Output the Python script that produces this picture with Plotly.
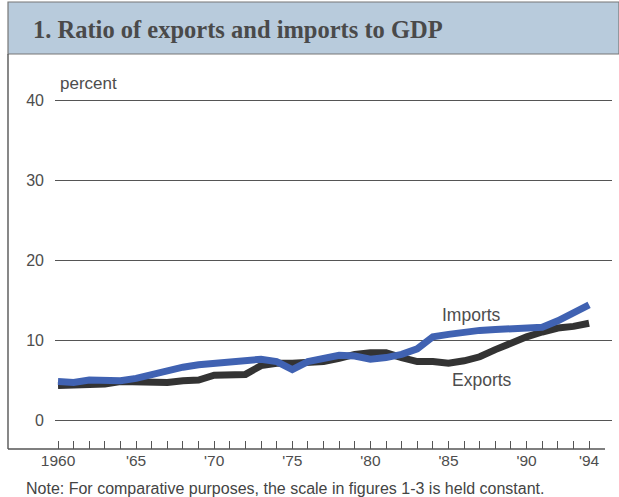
import plotly.graph_objects as go

years = list(range(1960, 1995))
exports = [4.3, 4.3, 4.3, 4.5, 4.8, 4.7, 4.6, 4.7, 4.9, 5.0,
           5.6, 5.6, 5.7, 6.8, 7.1, 7.1, 7.2, 7.3, 7.7, 8.2,
           8.4, 8.4, 7.8, 7.3, 7.3, 7.1, 7.4, 7.9, 8.8, 9.7,
           10.4, 11.0, 11.5, 11.7, 12.1]
imports = [4.8, 4.7, 5.0, 4.9, 4.9, 5.2, 5.7, 6.0, 6.6, 6.9,
           7.1, 7.2, 7.5, 7.6, 7.3, 6.3, 7.3, 7.8, 8.1, 8.0,
           7.6, 7.8, 8.2, 8.9, 10.4, 10.7, 11.0, 11.2, 11.3, 11.4,
           11.6, 11.6, 12.4, 13.3, 14.4]
x_tick_vals = [1960, 1965, 1970, 1975, 1980, 1985, 1990, 1994]
x_tick_text = ["1960", "'65", "'70", "'75", "'80", "'85", "'90", "'94"]
y_tick_vals = [0, 10, 20, 30, 40]

W, H = 619, 497
L, R, T, B = 55, 612, 60, 449
PW, PH = R - L, B - T


def px(x):
    return (x - L) / PW


def py(y):
    return (B - y) / PH


TXT = "#4d4d4d"
FONT = "Liberation Sans, Arial, sans-serif"

fig = go.Figure()
fig.add_trace(go.Scatter(x=years, y=exports, mode="lines", name="Exports",
                         line=dict(color="#333333", width=7)))
fig.add_trace(go.Scatter(x=years, y=imports, mode="lines", name="Imports",
                         line=dict(color="#4062b2", width=7)))

x0 = 1960 - 3 / 15.62
x1 = 1960 + (R - 58) / 15.62
y0 = (420 - B) / 8
y1 = (420 - T) / 8

fig.update_layout(
    width=W, height=H,
    margin=dict(l=L, r=W - R, t=T, b=H - B, pad=0),
    paper_bgcolor="white", plot_bgcolor="white",
    showlegend=False,
    xaxis=dict(range=[x0, x1], tickmode="array", tickvals=x_tick_vals,
               ticktext=x_tick_text, ticks="inside", ticklen=8, tickwidth=1.2,
               tickcolor="#555", showgrid=False, showline=False, zeroline=False,
               tickfont=dict(family=FONT, size=15.5, color=TXT),
               minor=dict(tickmode="array", tickvals=years, ticks="inside",
                          ticklen=8, tickwidth=1.2, tickcolor="#555", showgrid=False)),
    yaxis=dict(range=[y0, y1], tickmode="array", tickvals=y_tick_vals,
               showgrid=True, gridcolor="#555555", gridwidth=1.2,
               zeroline=False, showline=False, ticks="",
               ticklabelstandoff=10,
               tickfont=dict(family=FONT, size=16, color=TXT)),
)

# title band
fig.add_shape(type="rect", xref="paper", yref="paper",
              x0=px(8), x1=px(619), y0=py(54), y1=py(2),
              fillcolor="#b8cbdc", line=dict(color="#777", width=1.2), layer="below")
# frame lines
fig.add_shape(type="line", xref="paper", yref="paper",
              x0=px(8), x1=px(8), y0=py(449), y1=py(54),
              line=dict(color="#555", width=1.4))
fig.add_shape(type="line", xref="paper", yref="paper",
              x0=px(8), x1=px(605), y0=py(449), y1=py(449),
              line=dict(color="#555", width=1.4))

fig.add_annotation(text="<b>1. Ratio of exports and imports to GDP</b>",
                   xref="paper", yref="paper", x=px(31), y=py(30),
                   xanchor="left", yanchor="middle", showarrow=False,
                   font=dict(family="Liberation Serif, Times New Roman, serif",
                             size=24.5, color="#4a4a4a"))
fig.add_annotation(text="percent", xref="paper", yref="paper",
                   x=px(58), y=py(83), xanchor="left", yanchor="middle",
                   showarrow=False, font=dict(family=FONT, size=17, color=TXT))
fig.add_annotation(text="Imports", x=1986.5, y=13.1, xanchor="center",
                   yanchor="middle", showarrow=False,
                   font=dict(family=FONT, size=17.5, color=TXT))
fig.add_annotation(text="Exports", x=1987.15, y=5.0, xanchor="center",
                   yanchor="middle", showarrow=False,
                   font=dict(family=FONT, size=17.5, color=TXT))
fig.add_annotation(text="Note: For comparative purposes, the scale in figures 1-3 is held constant.",
                   xref="paper", yref="paper", x=px(24), y=py(488),
                   xanchor="left", yanchor="middle", showarrow=False,
                   font=dict(family=FONT, size=16, color="#444"))

fig.write_html("out.html", config={"displayModeBar": False},
               post_script="document.body.style.margin='0';")
